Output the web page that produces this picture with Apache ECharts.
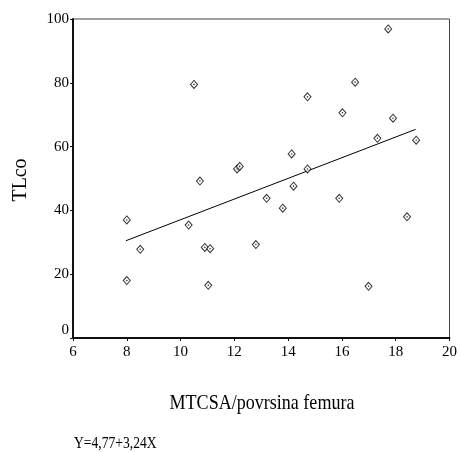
<!DOCTYPE html>
<html><head><meta charset="utf-8">
<script src="https://cdn.jsdelivr.net/npm/echarts@6/dist/echarts.min.js"></script>
<style>html,body{margin:0;padding:0;background:#fff}#c{width:460px;height:452px}</style>
</head><body><div id="c"></div>
<script>
// Data
const xValues = [8.0, 8.0, 8.5, 10.3, 10.5, 10.72, 10.9, 11.1, 11.03, 12.1, 12.2, 12.8, 13.2, 13.8, 14.13, 14.2, 14.72, 14.72, 15.9, 16.02, 16.49, 16.99, 17.32, 17.72, 17.9, 18.42, 18.76];
const yValues = [37.0, 18.0, 27.8, 35.4, 79.5, 49.2, 28.4, 28.0, 16.5, 53.0, 53.8, 29.3, 43.8, 40.7, 57.7, 47.6, 75.6, 53.0, 43.8, 70.6, 80.2, 16.2, 62.6, 96.9, 68.9, 38.0, 62.0];
const fitX = [7.97, 18.74];
const fitY = [30.5, 65.4];
const xTicks = [6, 8, 10, 12, 14, 16, 18, 20];
const yTicks = [0, 20, 40, 60, 80, 100];
const xTitle = 'MTCSA/povrsina femura';
const yTitle = 'TLco';
const equation = 'Y=4,77+3,24X';

const serif = '"Liberation Serif", "Times New Roman", serif';
const points = xValues.map((x, i) => [x, yValues[i]]);
const fitLine = fitX.map((x, i) => [x, fitY[i]]);

const chart = echarts.init(document.getElementById('c'), null, {renderer: 'canvas'});
chart.setOption({
  animation: false,
  backgroundColor: '#fff',
  grid: {left: 73, top: 19, width: 378, height: 319, show: true, borderColor: '#444', borderWidth: 1, backgroundColor: 'transparent'},
  xAxis: {
    type: 'value', min: xTicks[0], max: xTicks[xTicks.length - 1], interval: xTicks[1] - xTicks[0],
    axisLine: {lineStyle: {color: '#111', width: 2}},
    axisTick: {show: true, inside: false, length: 3, lineStyle: {color: '#111', width: 1}},
    axisLabel: {color: '#000', fontFamily: serif, fontSize: 15, margin: 7},
    splitLine: {show: false}
  },
  yAxis: {
    type: 'value', min: yTicks[0], max: yTicks[yTicks.length - 1], interval: yTicks[1] - yTicks[0],
    axisLine: {lineStyle: {color: '#111', width: 2}},
    axisTick: {show: true, inside: false, length: 3, lineStyle: {color: '#111', width: 1}},
    axisLabel: {
      color: '#000', fontFamily: serif, fontSize: 15, margin: 4,
      formatter: v => v === 0 ? '{z|0}' : String(v),
      rich: {z: {fontFamily: serif, fontSize: 15, color: '#000', padding: [0, 0, 16, 0]}}
    },
    splitLine: {show: false}
  },
  series: [
    {
      type: 'line', data: fitLine, showSymbol: false, symbol: 'none',
      lineStyle: {color: '#000', width: 1}, z: 2
    },
    {
      type: 'scatter', data: points, symbol: 'diamond', symbolSize: [7, 8],
      itemStyle: {color: '#fff', borderColor: '#000', borderWidth: 1}, z: 3
    },
    {
      type: 'scatter', data: points, symbol: 'circle', symbolSize: 1.6,
      itemStyle: {color: '#000'}, z: 4, silent: true
    }
  ],
  graphic: [
    {type: 'text', x: 262, y: 403, scaleX: 0.82,
     style: {text: xTitle, x: 0, y: 0, fill: '#000', fontFamily: serif, fontSize: 22, textAlign: 'center', textVerticalAlign: 'middle'}},
    {type: 'text', x: 20, y: 180, rotation: Math.PI / 2, scaleX: 0.9,
     style: {text: yTitle, x: 0, y: 0, fill: '#000', fontFamily: serif, fontSize: 22, textAlign: 'center', textVerticalAlign: 'middle'}},
    {type: 'text', x: 74, y: 444, scaleX: 0.8,
     style: {text: equation, x: 0, y: 0, fill: '#000', fontFamily: serif, fontSize: 17, textAlign: 'left', textVerticalAlign: 'middle'}}
  ]
});
</script></body></html>
